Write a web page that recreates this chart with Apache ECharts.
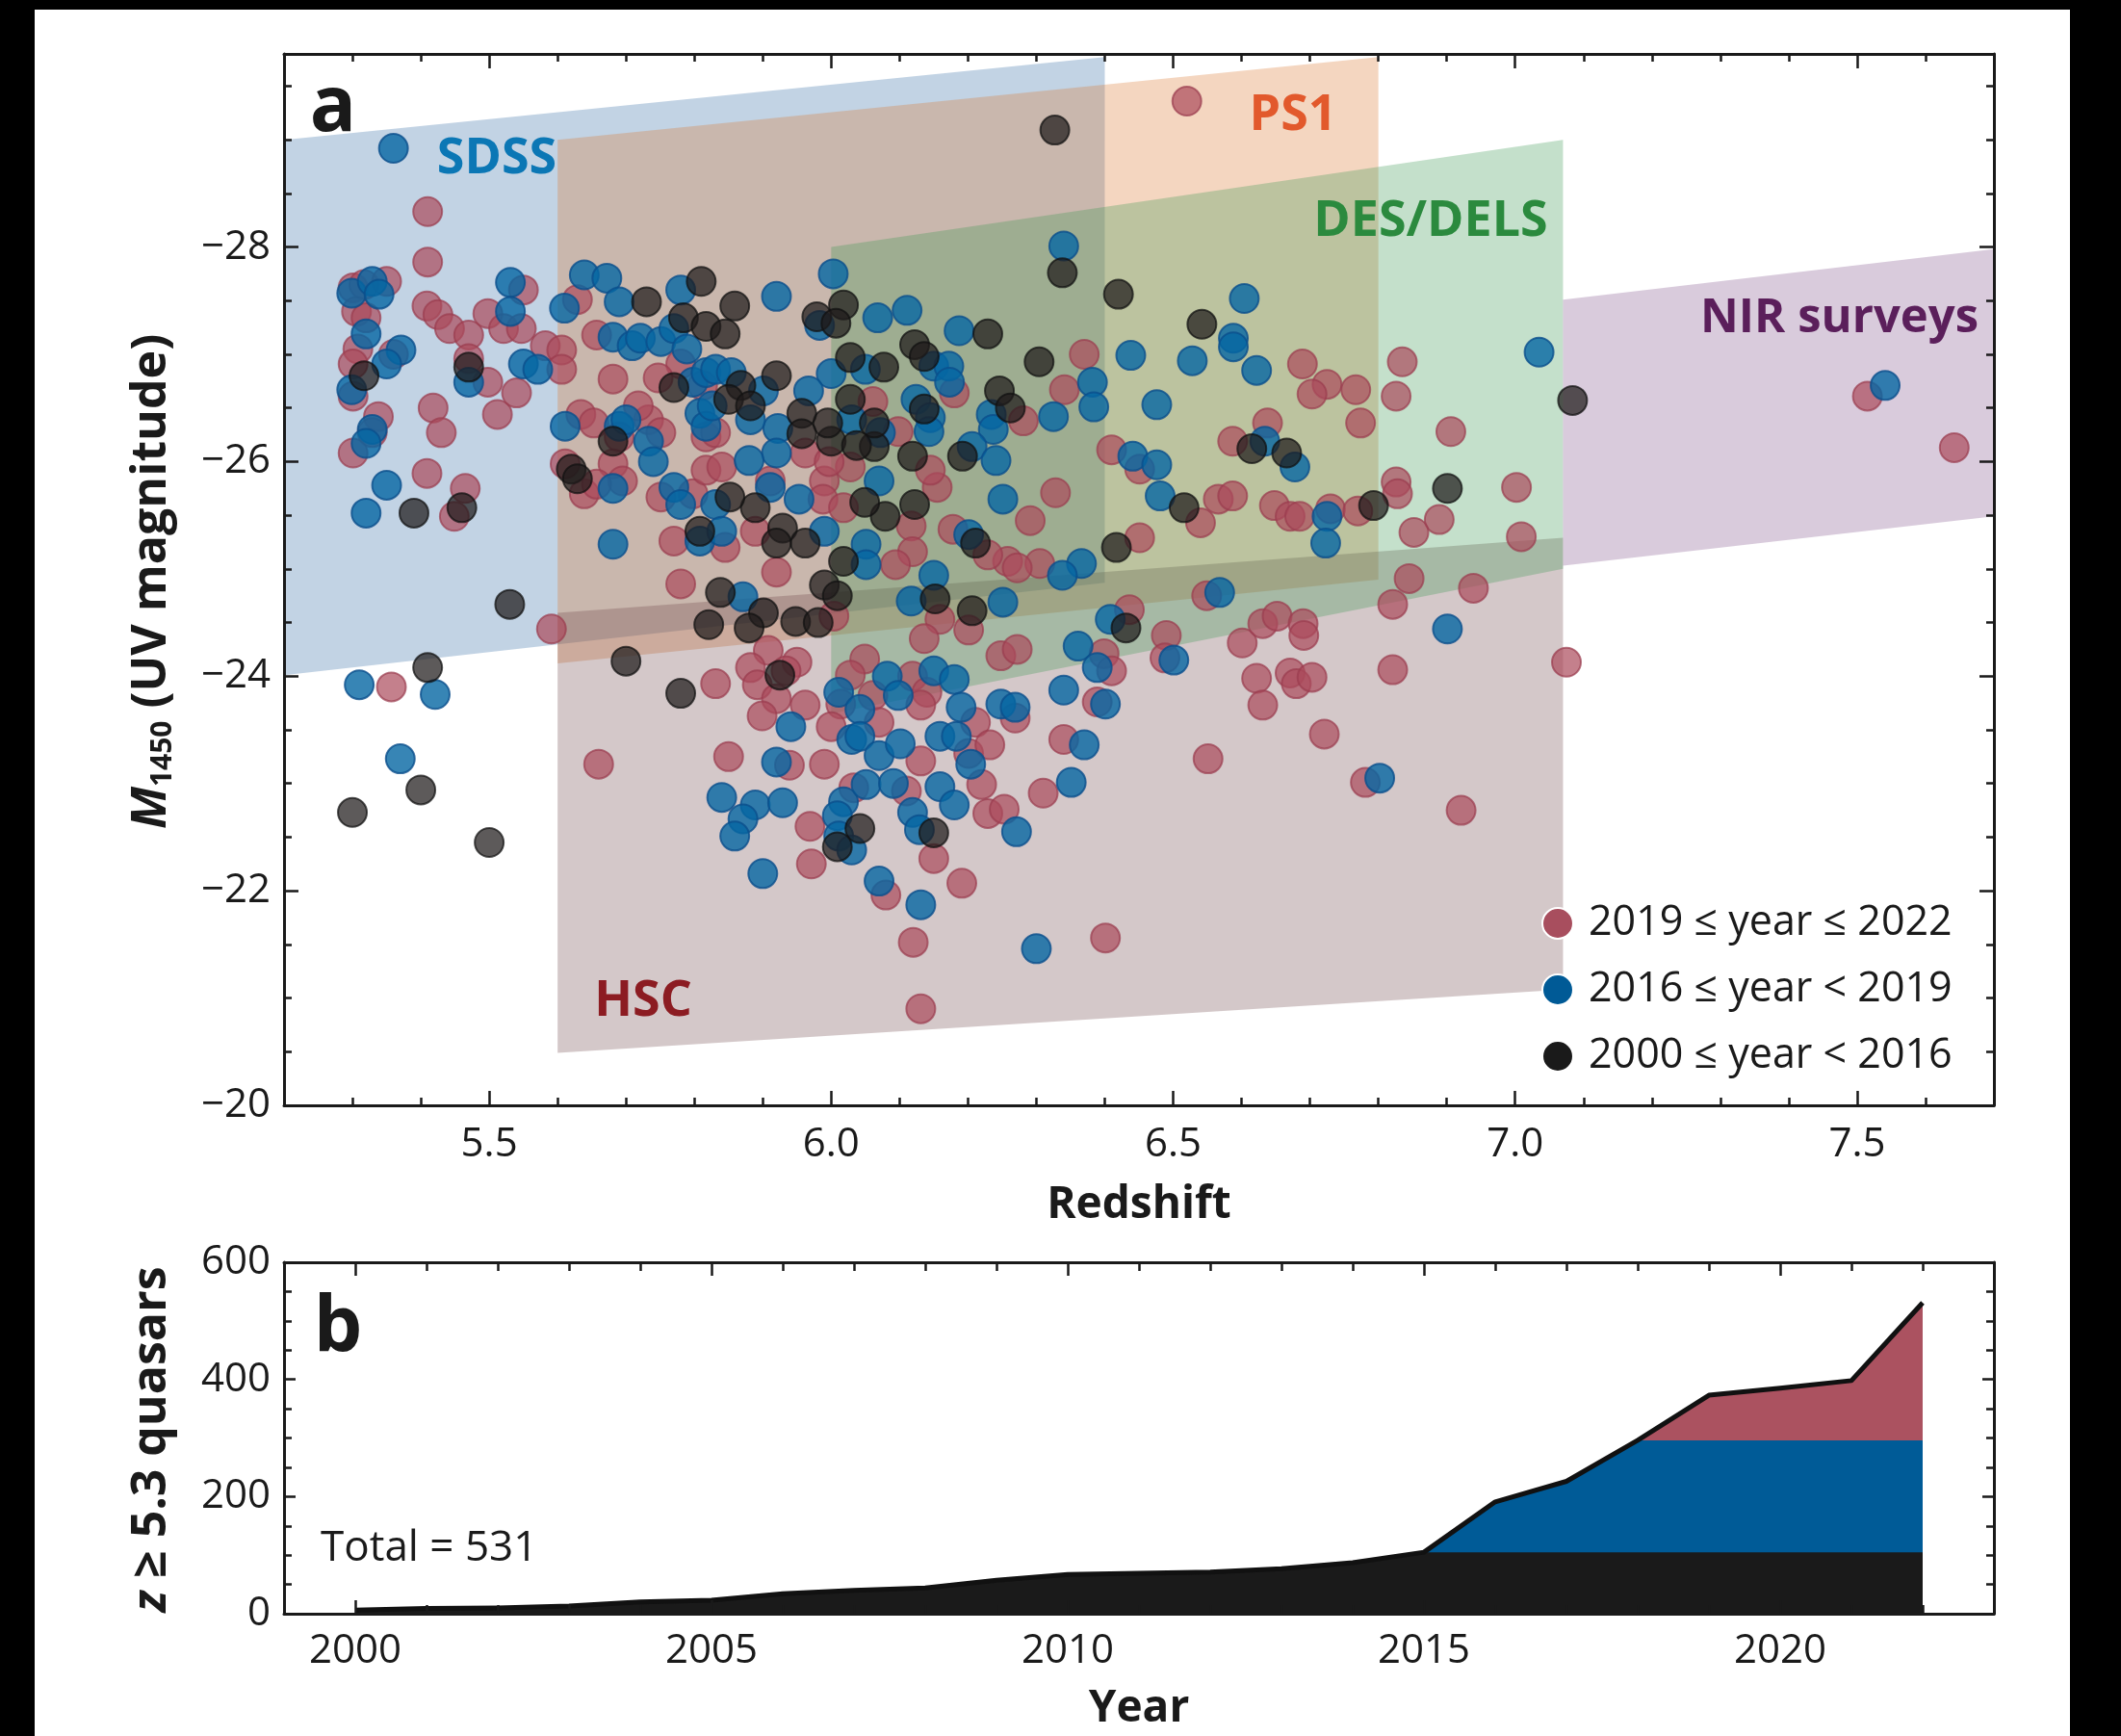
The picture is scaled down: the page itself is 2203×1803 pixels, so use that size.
<!DOCTYPE html>
<html>
<head>
<meta charset="utf-8">
<title>High-redshift quasars</title>
<script src="https://cdn.jsdelivr.net/npm/echarts@6/dist/echarts.min.js"></script>
<style>
  html, body { margin: 0; padding: 0; background: #ffffff; }
  #chart { width: 2203px; height: 1803px; }
</style>
</head>
<body>
<div id="chart"></div>
<script>
// ---------- Panel a: quasar redshift vs. absolute UV magnitude ----------
// [redshift, M1450]
const quasarsRecent = [ // discovered 2019-2022
  [5.410,-28.33],[5.410,-27.86],[5.301,-27.62],[5.317,-27.65],[5.350,-27.68],[5.306,-27.40],[5.320,-27.34],[5.308,-27.05],[5.301,-26.91],[5.360,-27.00],
  [5.301,-26.61],[5.338,-26.42],[5.329,-26.27],[5.301,-26.08],[5.409,-25.89],[5.465,-25.75],[5.449,-25.49],[5.409,-27.45],[5.425,-27.37],[5.442,-27.24],
  [5.470,-27.18],[5.470,-26.96],[5.498,-26.74],[5.512,-26.44],[5.540,-26.64],[5.418,-26.50],[5.430,-26.27],[5.550,-27.60],[5.498,-27.38],[5.521,-27.24],
  [5.547,-27.24],[5.582,-27.08],[5.606,-27.04],[5.606,-26.86],[5.629,-27.51],[5.657,-27.18],[5.780,-26.91],[5.681,-26.77],[5.747,-26.78],[5.812,-26.71],
  [5.634,-26.44],[5.653,-26.36],[5.690,-26.23],[5.733,-26.39],[5.751,-26.27],[5.611,-25.98],[5.639,-25.70],[5.681,-25.98],[5.695,-25.82],[5.657,-25.79],
  [5.751,-25.67],[5.798,-25.70],[5.817,-25.92],[5.770,-25.26],[5.817,-26.23],[5.718,-26.52],
  [6.370,-27.00],[6.061,-26.56],[6.180,-26.64],[6.341,-26.67],[6.281,-26.38],[6.410,-26.11],[6.328,-25.71],[6.291,-25.45],[6.305,-25.05],[6.258,-25.07],
  [6.178,-25.37],[6.229,-25.13],[6.117,-25.40],[6.119,-25.16],[6.155,-25.76],[6.145,-25.92],[6.098,-26.28],[5.962,-26.08],[5.840,-25.95],[5.831,-26.27],
  [5.911,-25.82],[5.990,-25.82],[5.988,-25.65],[6.018,-25.57],[6.028,-25.95],[5.997,-26.00],[5.889,-25.35],[5.845,-25.20],[5.920,-24.97],[6.094,-25.04],
  [6.272,-25.01],
  [6.520,-29.36],[6.689,-26.91],[6.835,-26.93],[6.725,-26.72],[6.703,-26.63],[6.767,-26.67],[6.826,-26.61],[6.638,-26.36],[6.774,-26.36],[6.906,-26.28],
  [6.587,-26.19],[6.451,-25.93],[6.540,-25.43],[6.566,-25.65],[6.587,-25.68],[6.648,-25.59],[6.671,-25.49],[6.685,-25.49],[6.730,-25.56],[6.770,-25.54],
  [6.826,-25.81],[6.828,-25.70],[7.002,-25.76],[6.889,-25.46],[6.852,-25.34],[7.009,-25.30],[6.451,-25.29],
  [7.515,-26.61],[7.642,-26.13],
  [5.591,-24.44],[5.780,-24.86],[5.357,-23.90],[5.660,-23.18],
  [6.004,-24.56],[6.159,-24.53],[6.201,-24.43],[6.136,-24.35],[6.248,-24.19],[6.272,-24.25],[6.436,-24.62],[6.399,-24.21],[6.410,-24.05],[6.389,-23.76],
  [5.908,-24.24],[5.882,-24.08],[5.892,-23.92],[5.950,-24.13],[5.934,-24.05],[5.831,-23.93],[5.920,-23.79],[5.899,-23.63],[5.962,-23.73],[6.049,-24.16],
  [6.028,-24.01],[6.119,-24.00],[6.140,-23.85],[6.131,-23.73],[6.014,-23.74],[6.061,-23.82],[6.000,-23.53],[6.070,-23.57],[6.211,-23.57],[6.269,-23.61],
  [6.201,-23.28],[6.232,-23.36],[6.340,-23.41],[5.850,-23.25],[5.939,-23.17],[5.990,-23.18],[6.131,-23.21],[5.969,-22.60],[6.033,-22.96],[6.110,-22.93],
  [6.220,-22.99],[6.229,-22.72],[6.253,-22.76],[6.310,-22.91],[6.150,-22.30],[6.191,-22.07],[5.971,-22.25],[6.080,-21.96],[6.120,-21.52],[6.401,-21.56],
  [6.131,-20.90],
  [6.549,-24.75],[6.845,-24.91],[6.821,-24.67],[6.939,-24.82],[6.490,-24.38],[6.488,-24.17],[6.601,-24.31],[6.631,-24.49],[6.652,-24.56],[6.690,-24.49],
  [6.691,-24.38],[6.622,-23.98],[6.671,-24.03],[6.680,-23.93],[6.703,-23.99],[6.631,-23.73],[6.821,-24.06],[6.721,-23.46],[6.551,-23.23],[6.781,-23.01],
  [6.921,-22.75],[7.075,-24.13]
];

const quasarsMid = [ // discovered 2016-2018
  [5.360,-28.92],[5.299,-27.57],[5.329,-27.68],[5.339,-27.56],[5.320,-27.19],[5.371,-27.04],[5.350,-26.91],[5.299,-26.67],[5.329,-26.30],[5.320,-26.17],
  [5.350,-25.78],[5.320,-25.52],[5.470,-26.74],[5.531,-27.67],[5.531,-27.40],[5.550,-26.91],[5.571,-26.86],[5.610,-27.43],[5.639,-27.74],[5.672,-27.71],
  [5.690,-27.49],[5.780,-27.60],[5.681,-27.16],[5.709,-27.08],[5.721,-27.15],[5.751,-27.12],[5.770,-27.24],[5.789,-27.05],[5.798,-26.74],[5.817,-26.83],
  [5.808,-26.45],[5.611,-26.33],[5.690,-26.33],[5.733,-26.19],[5.740,-26.00],[5.681,-25.75],[5.770,-25.76],[5.780,-25.60],[5.817,-26.33],[5.808,-25.26],
  [5.681,-25.23],[5.700,-26.39],
  [5.920,-27.54],[6.003,-27.75],[5.983,-27.27],[6.068,-27.34],[6.111,-27.41],[6.340,-28.01],[6.187,-27.22],[6.150,-26.89],[6.172,-26.89],[6.438,-26.99],
  [6.050,-26.86],[6.000,-26.82],[5.831,-26.86],[5.854,-26.83],[5.901,-26.66],[5.967,-26.66],[6.173,-26.74],[6.382,-26.74],[6.384,-26.51],[6.325,-26.42],
  [6.124,-26.58],[6.145,-26.41],[6.143,-26.28],[6.234,-26.44],[6.237,-26.30],[6.206,-26.14],[6.241,-26.01],[6.441,-26.05],[6.251,-25.65],[6.366,-25.05],
  [6.201,-25.32],[6.072,-26.27],[6.030,-26.39],[5.922,-26.31],[5.920,-26.08],[5.880,-26.01],[5.826,-26.52],[5.882,-26.39],[5.911,-25.76],[5.953,-25.65],
  [5.831,-25.60],[6.070,-25.82],[5.990,-25.35],[5.840,-25.35],[6.051,-25.23],[6.051,-25.04],[6.150,-24.94],[6.338,-24.94],
  [6.604,-27.52],[6.588,-27.15],[6.588,-27.07],[6.528,-26.94],[6.622,-26.85],[7.035,-27.02],[6.476,-26.53],[6.634,-26.19],[6.678,-25.95],[6.476,-25.97],
  [6.481,-25.68],[6.725,-25.49],[6.723,-25.24],
  [7.541,-26.71],
  [5.310,-23.92],[5.421,-23.83],[5.370,-23.23],
  [5.871,-24.74],[6.117,-24.70],[6.251,-24.69],[6.408,-24.53],[6.361,-24.28],[6.389,-24.08],[6.340,-23.87],[6.401,-23.74],[5.941,-23.53],[6.082,-24.00],
  [6.150,-24.05],[6.180,-23.97],[6.011,-23.85],[6.098,-23.82],[6.042,-23.69],[6.190,-23.71],[6.248,-23.74],[6.269,-23.71],[6.030,-23.41],[6.042,-23.44],
  [6.070,-23.26],[6.101,-23.37],[6.159,-23.44],[6.183,-23.44],[6.204,-23.18],[6.370,-23.36],[5.920,-23.20],[5.840,-22.87],[5.889,-22.80],[5.929,-22.82],
  [5.871,-22.67],[5.859,-22.51],[6.018,-22.83],[6.051,-22.99],[6.009,-22.70],[6.011,-22.51],[6.030,-22.38],[6.091,-23.00],[6.159,-22.97],[6.180,-22.80],
  [6.119,-22.73],[6.129,-22.57],[6.271,-22.55],[6.351,-23.01],[5.900,-22.16],[6.070,-22.09],[6.131,-21.87],[6.300,-21.46],
  [6.568,-24.78],[6.901,-24.44],[6.501,-24.15],[6.802,-23.05]
];

const quasarsEarly = [ // discovered 2000-2015
  [5.317,-26.80],[5.390,-25.52],[5.460,-25.57],[5.470,-26.88],[5.730,-27.49],[5.810,-27.68],[5.784,-27.34],[5.817,-27.26],[5.770,-26.69],[5.681,-26.19],
  [5.620,-25.93],[5.629,-25.84],[5.808,-25.35],
  [6.327,-29.09],[5.859,-27.45],[5.845,-27.19],[6.018,-27.46],[5.979,-27.35],[6.007,-27.29],[6.338,-27.76],[6.420,-27.56],[6.229,-27.19],[6.122,-27.09],
  [6.136,-26.98],[6.304,-26.93],[6.028,-26.97],[6.077,-26.88],[5.920,-26.80],[5.868,-26.71],[6.028,-26.58],[6.246,-26.66],[6.262,-26.50],[6.136,-26.49],
  [6.192,-26.05],[6.417,-25.20],[6.211,-25.24],[6.122,-25.60],[6.079,-25.49],[6.049,-25.62],[6.119,-26.05],[6.063,-26.14],[6.063,-26.36],[6.000,-26.19],
  [5.995,-26.36],[5.957,-26.45],[6.037,-26.15],[5.957,-26.26],[5.850,-26.58],[5.882,-26.52],[5.889,-25.57],[5.852,-25.67],[5.929,-25.38],[5.962,-25.24],
  [5.920,-25.24],[6.018,-25.07],
  [6.542,-27.28],[6.615,-26.12],[6.666,-26.08],[6.516,-25.57],[6.793,-25.59],[6.901,-25.75],
  [7.084,-26.57],
  [5.530,-24.67],[5.700,-24.14],[5.780,-23.84],[5.410,-24.08],[5.400,-22.94],[5.300,-22.73],[5.500,-22.45],
  [5.838,-24.78],[5.821,-24.48],[5.901,-24.59],[5.880,-24.45],[5.948,-24.51],[5.981,-24.50],[5.990,-24.85],[6.009,-24.75],[6.152,-24.72],[6.206,-24.61],
  [6.431,-24.45],[5.925,-24.01],[6.042,-22.58],[6.009,-22.41],[6.150,-22.54]
];

// Survey selection windows, [redshift, M1450] corners
const sdssWindow = [[5.2,-29.0],[6.4,-29.77],[6.4,-24.87],[5.2,-24.01]];
const ps1Window  = [[5.6,-29.0],[6.8,-29.77],[6.8,-24.90],[5.6,-24.12]];
const hscWindow  = [[5.6,-24.59],[7.07,-25.29],[7.07,-21.08],[5.6,-20.49]];
const desWindow  = [[6.0,-28.0],[7.07,-29.0],[7.07,-25.0],[6.0,-23.65]];
const nirWindow  = [[7.07,-27.51],[7.7,-27.98],[7.7,-25.49],[7.07,-25.03]];

const redshiftTicks = [5.5, 6.0, 6.5, 7.0, 7.5];
const magnitudeTicks = [-28, -26, -24, -22, -20];

// ---------- Panel b: cumulative number of z >= 5.3 quasars ----------
const years = [2000,2001,2002,2003,2004,2005,2006,2007,2008,2009,2010,2011,2012,2013,2014,2015,2016,2017,2018,2019,2020,2021,2022];
const cumEarly  = [6,9,10,13,20,23,34,40,44,57,67,69,71,77,87,105,105,105,105,105,105,105,105];
const cumMid    = [0,0,0,0,0,0,0,0,0,0,0,0,0,0,0,0,86,121,191,191,191,191,191];
const cumRecent = [0,0,0,0,0,0,0,0,0,0,0,0,0,0,0,0,0,0,0,77,89,102,235];
const yearTicks = [2000, 2005, 2010, 2015, 2020];
const countTicks = [0, 200, 400, 600];

// ---------- styling ----------
const FONT = '"Open Sans", "DejaVu Sans", sans-serif';
const INK = '#1a1a1a';
const RED = '#ab4a5b', BLUE = '#0566a3', BLACK = '#1e1a1a';

function steps(a, b, step) {
  const out = [];
  for (let v = a; v <= b + 1e-9; v += step) out.push(+v.toFixed(4));
  return out;
}
const minorRedshift = steps(5.3, 7.6, 0.1);
const minorMagnitude = steps(-29.5, -20.5, 0.5);
const minorYear = steps(2000, 2022, 1);
const minorCount = steps(50, 550, 50);

const minusFmt = v => (v < 0 ? '\u2212' + Math.abs(v) : String(v));

function frameAxis(gridIndex, position, min, max, ticks, tickLen, showLine, labelCfg, inverse) {
  return {
    gridIndex, type: 'value', position, min, max, inverse: !!inverse, z: 10,
    axisLine: { show: showLine, onZero: false, lineStyle: { color: INK, width: 3 } },
    axisTick: { show: true, inside: true, length: tickLen, customValues: ticks,
                lineStyle: { color: INK, width: 2.5 } },
    axisLabel: labelCfg ? Object.assign({ show: true, fontSize: 42, fontFamily: FONT, color: INK }, labelCfg)
                        : { show: false },
    splitLine: { show: false },
    axisPointer: { show: false }
  };
}

const topRect = { left: 295, top: 56, width: 1776, height: 1092 };
const botRect = { left: 295, top: 1311, width: 1776, height: 365 };

const xAxes = [
  frameAxis(0, 'bottom', 5.2, 7.7, redshiftTicks, 15, true,
            { customValues: redshiftTicks, formatter: v => v.toFixed(1), margin: 20 }),
  frameAxis(0, 'top', 5.2, 7.7, redshiftTicks, 15, true, null),
  frameAxis(1, 'bottom', 5.2, 7.7, minorRedshift, 8, false, null),
  frameAxis(1, 'top', 5.2, 7.7, minorRedshift, 8, false, null),
  frameAxis(2, 'bottom', 1999, 2023, yearTicks, 14, true,
            { customValues: yearTicks, formatter: v => String(v), margin: 18 }),
  frameAxis(2, 'top', 1999, 2023, yearTicks, 14, true, null),
  frameAxis(3, 'bottom', 1999, 2023, minorYear, 9, false, null),
  frameAxis(3, 'top', 1999, 2023, minorYear, 9, false, null)
];
const yAxes = [
  frameAxis(0, 'left', -29.8, -20, magnitudeTicks, 15, true,
            { customValues: magnitudeTicks, formatter: minusFmt, margin: 14 }, true),
  frameAxis(0, 'right', -29.8, -20, magnitudeTicks, 15, true, null, true),
  frameAxis(1, 'left', -29.8, -20, minorMagnitude, 8, false, null, true),
  frameAxis(1, 'right', -29.8, -20, minorMagnitude, 8, false, null, true),
  frameAxis(2, 'left', 0, 600, countTicks, 12, true,
            { customValues: countTicks, formatter: v => String(v), margin: 14 }),
  frameAxis(2, 'right', 0, 600, countTicks, 12, true, null),
  frameAxis(3, 'left', 0, 600, minorCount, 8, false, null),
  frameAxis(3, 'right', 0, 600, minorCount, 8, false, null)
];

// survey windows drawn as translucent polygons on the data axes
const windows = [
  { pts: sdssWindow, color: '#346ca5' },
  { pts: ps1Window,  color: '#da762d' },
  { pts: hscWindow,  color: '#70484b' },
  { pts: desWindow,  color: '#3a9852' },
  { pts: nirWindow,  color: '#80528a' }
];
const windowSeries = windows.map((w, i) => ({
  type: 'custom', name: 'window' + i, xAxisIndex: 0, yAxisIndex: 0,
  silent: true, clip: true, z: 1 + i * 0.01,
  data: [w.pts[0]],
  renderItem: (params, api) => ({
    type: 'polygon',
    shape: { points: w.pts.map(p => api.coord(p)) },
    style: { fill: w.color, opacity: 0.3 }
  })
}));

function quasarSeries(name, data, color, border, opacity) {
  return {
    type: 'scatter', name, data, xAxisIndex: 0, yAxisIndex: 0,
    symbol: 'circle', symbolSize: 30, silent: true, z: 5,
    itemStyle: { color, opacity, borderColor: border, borderWidth: 2 }
  };
}

// cumulative layers: each band is drawn from zero, newer bands underneath
const upToEarly = years.map((y, i) => [y, cumEarly[i]]);
const upToMid = years.map((y, i) => [y, cumEarly[i] + cumMid[i]]);
const total = years.map((y, i) => [y, cumEarly[i] + cumMid[i] + cumRecent[i]]);
function bandSeries(name, data, color, z) {
  return {
    type: 'line', name, data, xAxisIndex: 4, yAxisIndex: 4,
    symbol: 'none', silent: true, z,
    lineStyle: { width: 0 }, areaStyle: { color, opacity: 1, origin: 'start' }
  };
}

const titleStyle = { fontFamily: FONT, fontWeight: 'bold', fill: INK };

const option = {
  backgroundColor: '#ffffff',
  animation: false,
  grid: [
    Object.assign({ outerBoundsMode: 'none' }, topRect),
    Object.assign({ outerBoundsMode: 'none' }, topRect),
    Object.assign({ outerBoundsMode: 'none' }, botRect),
    Object.assign({ outerBoundsMode: 'none' }, botRect)
  ],
  xAxis: xAxes,
  yAxis: yAxes,
  legend: {
    orient: 'vertical', left: 1596, top: 930,
    itemWidth: 54, itemHeight: 32, itemGap: 21, icon: 'circle',
    selectedMode: false,
    textStyle: { fontSize: 43, fontFamily: FONT, color: INK, lineHeight: 48 },
    data: [
      { name: '2019 \u2264 year \u2264 2022', itemStyle: { color: '#a84e5e', opacity: 1, borderColor: '#ffffff', borderWidth: 2 } },
      { name: '2016 \u2264 year < 2019', itemStyle: { color: '#005a96', opacity: 1, borderColor: '#ffffff', borderWidth: 2 } },
      { name: '2000 \u2264 year < 2016', itemStyle: { color: '#1a1a1a', opacity: 1, borderColor: '#ffffff', borderWidth: 2 } }
    ]
  },
  series: [
    ...windowSeries,
    quasarSeries('2019 \u2264 year \u2264 2022', quasarsRecent, RED, '#9a3c4e', 0.7),
    quasarSeries('2016 \u2264 year < 2019', quasarsMid, BLUE, '#0b4f8c', 0.8),
    quasarSeries('2000 \u2264 year < 2016', quasarsEarly, BLACK, '#111111', 0.72),
    bandSeries('recent', total, '#ab5260', 3),
    bandSeries('mid', upToMid, '#005b97', 3.1),
    bandSeries('early', upToEarly, '#1a1a1a', 3.2),
    {
      type: 'line', name: 'total', data: total, xAxisIndex: 4, yAxisIndex: 4,
      symbol: 'none', silent: true, z: 4,
      lineStyle: { color: '#111111', width: 5, join: 'round' }
    }
  ],
  graphic: [
    // panel letters
    { type: 'text', x: 346, y: 113, z: 20, style: Object.assign({ text: 'a', fontSize: 80, align: 'center', verticalAlign: 'middle' }, titleStyle) },
    { type: 'text', x: 351, y: 1380, z: 20, style: Object.assign({ text: 'b', fontSize: 80, align: 'center', verticalAlign: 'middle' }, titleStyle) },
    // survey names
    { type: 'text', x: 516, y: 165, z: 20, style: { text: 'SDSS', fontFamily: FONT, fontWeight: 'bold', fontSize: 52, fill: '#0b77b5', align: 'center', verticalAlign: 'middle' } },
    { type: 'text', x: 1343, y: 120, z: 20, style: { text: 'PS1', fontFamily: FONT, fontWeight: 'bold', fontSize: 52, fill: '#e2592c', align: 'center', verticalAlign: 'middle' } },
    { type: 'text', x: 1486, y: 230, z: 20, style: { text: 'DES/DELS', fontFamily: FONT, fontWeight: 'bold', fontSize: 52, fill: '#2b8a3e', align: 'center', verticalAlign: 'middle' } },
    { type: 'text', x: 2055, y: 331, z: 20, style: { text: 'NIR surveys', fontFamily: FONT, fontWeight: 'bold', fontSize: 49, fill: '#5b1f5b', align: 'right', verticalAlign: 'middle' } },
    { type: 'text', x: 668, y: 1040, z: 20, style: { text: 'HSC', fontFamily: FONT, fontWeight: 'bold', fontSize: 52, fill: '#8c1c22', align: 'center', verticalAlign: 'middle' } },
    // axis titles
    { type: 'text', x: 1183, y: 1252, z: 20, style: Object.assign({ text: 'Redshift', fontSize: 46, align: 'center', verticalAlign: 'middle' }, titleStyle) },
    { type: 'text', x: 1183, y: 1775, z: 20, style: Object.assign({ text: 'Year', fontSize: 46, align: 'center', verticalAlign: 'middle' }, titleStyle) },
    { type: 'text', x: 158, y: 604, rotation: Math.PI / 2, z: 20,
      style: {
        text: '{m|M}{s|1450}{t| (UV magnitude)}', align: 'center', verticalAlign: 'middle',
        rich: {
          m: { fontFamily: FONT, fontWeight: 'bold', fontStyle: 'italic', fontSize: 50, fill: INK, lineHeight: 60 },
          s: { fontFamily: FONT, fontWeight: 'bold', fontSize: 30, fill: INK, lineHeight: 60, verticalAlign: 'bottom', padding: [0, 0, 4, 0] },
          t: { fontFamily: FONT, fontWeight: 'bold', fontSize: 50, fill: INK, lineHeight: 60 }
        }
      } },
    { type: 'text', x: 158, y: 1495, rotation: Math.PI / 2, z: 20,
      style: {
        text: '{z|z}{t| \u2265 5.3 quasars}', align: 'center', verticalAlign: 'middle',
        rich: {
          z: { fontFamily: FONT, fontWeight: 'bold', fontStyle: 'italic', fontSize: 50, fill: INK },
          t: { fontFamily: FONT, fontWeight: 'bold', fontSize: 50, fill: INK }
        }
      } },
    { type: 'text', x: 333, y: 1608, z: 20, style: { text: 'Total = 531', fontFamily: FONT, fontSize: 44, fill: INK, align: 'left', verticalAlign: 'middle' } },
    // page edge bands
    { type: 'rect', z: 30, shape: { x: 0, y: 0, width: 2203, height: 10 }, style: { fill: '#000000' } },
    { type: 'rect', z: 30, shape: { x: 0, y: 0, width: 36, height: 1803 }, style: { fill: '#000000' } },
    { type: 'rect', z: 30, shape: { x: 2150, y: 0, width: 53, height: 1803 }, style: { fill: '#000000' } }
  ]
};

const chart = echarts.init(document.getElementById('chart'), null, { renderer: 'canvas', width: 2203, height: 1803 });
chart.setOption(option);
</script>
</body>
</html>
